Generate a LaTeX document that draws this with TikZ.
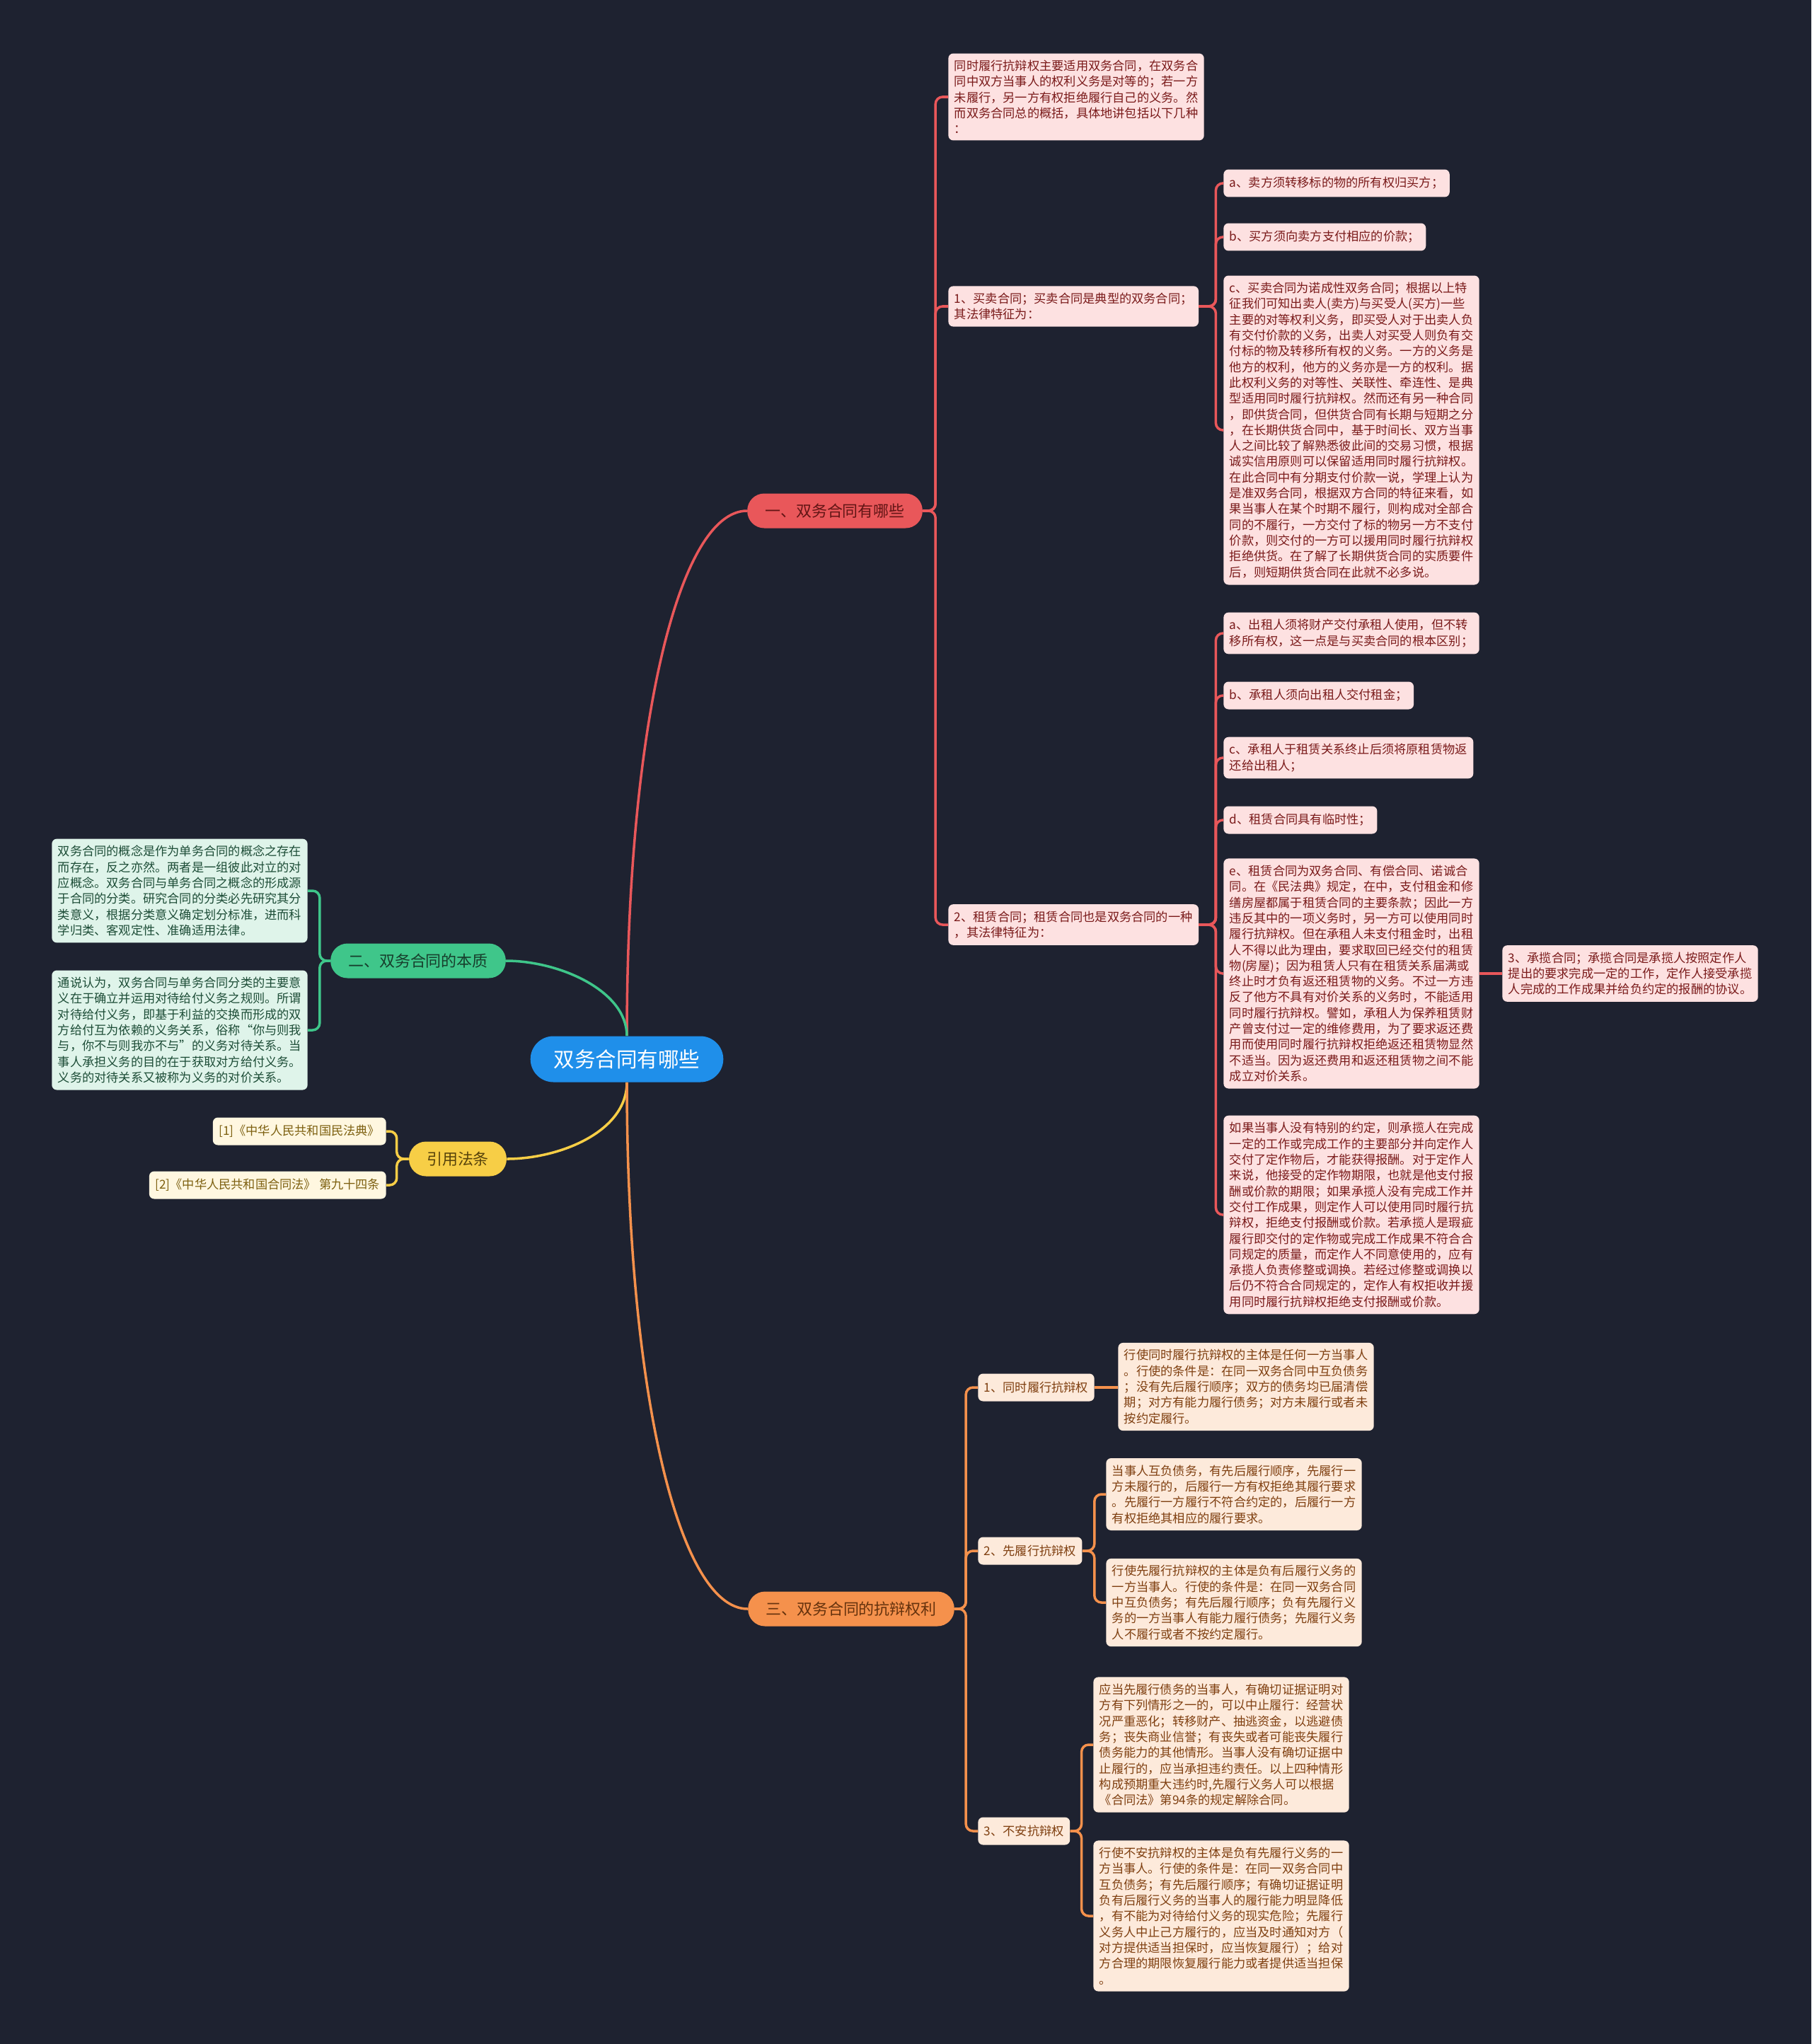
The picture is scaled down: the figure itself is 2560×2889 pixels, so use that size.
\documentclass[tikz,border=0pt]{standalone}
\usepackage{fontspec}
\usepackage{tikz}
\newfontfamily\cjk{Noto Sans CJK SC}
\definecolor{bgdark}{HTML}{1E2230}
\definecolor{rootblue}{HTML}{1F8FEA}
\definecolor{redmain}{HTML}{E9575A}
\definecolor{redsoft}{HTML}{FDE1E1}
\definecolor{redtext}{HTML}{7A1A1A}
\definecolor{greenmain}{HTML}{3FC68A}
\definecolor{greensoft}{HTML}{DFF4EA}
\definecolor{greentext}{HTML}{1D4D37}
\definecolor{yellowmain}{HTML}{F7CE46}
\definecolor{yellowsoft}{HTML}{FFF7E0}
\definecolor{yellowtext}{HTML}{7D6010}
\definecolor{orangemain}{HTML}{F5914C}
\definecolor{orangesoft}{HTML}{FDEADB}
\definecolor{orangetext}{HTML}{7F3F10}

\begin{document}
\begin{tikzpicture}[x=0.02cm, y=-0.02cm, every node/.style={font=\cjk}]
\tikzset{
  box/.style={rounded corners=0.14cm, inner xsep=0.17cm, inner ysep=0.19cm, minimum height=0.78cm,
    align=left, font=\cjk\fontsize{9.8pt}{12.7pt}\selectfont},
  pill/.style={rounded corners=0.48cm, minimum height=0.98cm, inner xsep=0.5cm,
    font=\cjk\fontsize{12.5pt}{15pt}\selectfont},
  rbox/.style={box, fill=redsoft, text=redtext},
  gbox/.style={box, fill=greensoft, text=greentext},
  ybox/.style={box, fill=yellowsoft, text=yellowtext},
  obox/.style={box, fill=orangesoft, text=orangetext},
  link/.style={line width=2pt, rounded corners=0.2cm}
}
\fill[bgdark] (0,0) rectangle (2560,2889);

% centre topic and the four branches
\node[pill, fill=rootblue, text=white, rounded corners=0.65cm, minimum height=1.3cm, inner xsep=0.66cm,
  font=\cjk\fontsize{16.8pt}{20pt}\selectfont] (root) at (886,1497) {双务合同有哪些};
\node[pill, fill=redmain, text=redtext!80!black] (br1) at (1180,722) {一、双务合同有哪些};
\node[pill, fill=greenmain, text=greentext!80!black] (br2) at (591,1358) {二、双务合同的本质};
\node[pill, fill=yellowmain, text=yellowtext!70!black] (br3) at (647,1638) {引用法条};
\node[pill, fill=orangemain, text=orangetext!80!black] (br4) at (1203,2274) {三、双务合同的抗辩权利};

\draw[link, redmain] (root.north) .. controls (886,1032) and (958,722) .. (br1.west);
\draw[link, greenmain] (root.north) .. controls (886,1400) and (790,1358) .. (br2.east);
\draw[link, yellowmain] (root.south) .. controls (886,1600) and (790,1638) .. (br3.east);
\draw[link, orangemain] (root.south) .. controls (886,1960) and (958,2274) .. (br4.west);

% branch one: kinds of bilateral contracts
\node[rbox, anchor=west] (intro) at (1340,137) {同时履行抗辩权主要适用双务合同，在双务合\\
同中双方当事人的权利义务是对等的；若一方\\
未履行，另一方有权拒绝履行自己的义务。然\\
而双务合同总的概括，具体地讲包括以下几种\\
：};
\node[rbox, anchor=west] (buy) at (1340,433) {1、买卖合同；买卖合同是典型的双务合同；\\其法律特征为：};
\node[rbox, anchor=west] (lease) at (1340,1307) {2、租赁合同；租赁合同也是双务合同的一种\\，其法律特征为：};
\foreach \c in {intro,buy,lease}
  \draw[link, redmain] (br1.east) -- ++(18,0) |- (\c.west);

\node[rbox, anchor=west] (buyA) at (1729,259) {a、卖方须转移标的物的所有权归买方；};
\node[rbox, anchor=west] (buyB) at (1729,335) {b、买方须向卖方支付相应的价款；};
\node[rbox, anchor=west] (buyC) at (1729,608) {c、买卖合同为诺成性双务合同；根据以上特\\
征我们可知出卖人(卖方)与买受人(买方)一些\\
主要的对等权利义务，即买受人对于出卖人负\\
有交付价款的义务，出卖人对买受人则负有交\\
付标的物及转移所有权的义务。一方的义务是\\
他方的权利，他方的义务亦是一方的权利。据\\
此权利义务的对等性、关联性、牵连性、是典\\
型适用同时履行抗辩权。然而还有另一种合同\\
，即供货合同，但供货合同有长期与短期之分\\
，在长期供货合同中，基于时间长、双方当事\\
人之间比较了解熟悉彼此间的交易习惯，根据\\
诚实信用原则可以保留适用同时履行抗辩权。\\
在此合同中有分期支付价款一说，学理上认为\\
是准双务合同，根据双方合同的特征来看，如\\
果当事人在某个时期不履行，则构成对全部合\\
同的不履行，一方交付了标的物另一方不支付\\
价款，则交付的一方可以援用同时履行抗辩权\\
拒绝供货。在了解了长期供货合同的实质要件\\
后，则短期供货合同在此就不必多说。};
\foreach \c in {buyA,buyB,buyC}
  \draw[link, redmain] (buy.east) -- ++(24,0) |- (\c.west);

\node[rbox, anchor=west] (leaseA) at (1729,895) {a、出租人须将财产交付承租人使用，但不转\\移所有权，这一点是与买卖合同的根本区别；};
\node[rbox, anchor=west] (leaseB) at (1729,983) {b、承租人须向出租人交付租金；};
\node[rbox, anchor=west] (leaseC) at (1729,1071) {c、承租人于租赁关系终止后须将原租赁物返\\还给出租人；};
\node[rbox, anchor=west] (leaseD) at (1729,1159) {d、租赁合同具有临时性；};
\node[rbox, anchor=west] (leaseE) at (1729,1376) {e、租赁合同为双务合同、有偿合同、诺诚合\\
同。在《民法典》规定，在中，支付租金和修\\
缮房屋都属于租赁合同的主要条款；因此一方\\
违反其中的一项义务时，另一方可以使用同时\\
履行抗辩权。但在承租人未支付租金时，出租\\
人不得以此为理由，要求取回已经交付的租赁\\
物(房屋)；因为租赁人只有在租赁关系届满或\\
终止时才负有返还租赁物的义务。不过一方违\\
反了他方不具有对价关系的义务时，不能适用\\
同时履行抗辩权。譬如，承租人为保养租赁财\\
产曾支付过一定的维修费用，为了要求返还费\\
用而使用同时履行抗辩权拒绝返还租赁物显然\\
不适当。因为返还费用和返还租赁物之间不能\\
成立对价关系。};
\node[rbox, anchor=west] (leaseF) at (1729,1717) {如果当事人没有特别的约定，则承揽人在完成\\
一定的工作或完成工作的主要部分并向定作人\\
交付了定作物后，才能获得报酬。对于定作人\\
来说，他接受的定作物期限，也就是他支付报\\
酬或价款的期限；如果承揽人没有完成工作并\\
交付工作成果，则定作人可以使用同时履行抗\\
辩权，拒绝支付报酬或价款。若承揽人是瑕疵\\
履行即交付的定作物或完成工作成果不符合合\\
同规定的质量，而定作人不同意使用的，应有\\
承揽人负责修整或调换。若经过修整或调换以\\
后仍不符合合同规定的，定作人有权拒收并援\\
用同时履行抗辩权拒绝支付报酬或价款。};
\foreach \c in {leaseA,leaseB,leaseC,leaseD,leaseE,leaseF}
  \draw[link, redmain] (lease.east) -- ++(24,0) |- (\c.west);

\node[rbox, anchor=west] (work) at (2123,1376) {3、承揽合同；承揽合同是承揽人按照定作人\\
提出的要求完成一定的工作，定作人接受承揽\\
人完成的工作成果并给负约定的报酬的协议。};
\draw[link, redmain] (leaseE.east) -- (work.west);

% branch two: nature of the contract
\node[gbox, anchor=east] (essA) at (435,1259) {双务合同的概念是作为单务合同的概念之存在\\
而存在，反之亦然。两者是一组彼此对立的对\\
应概念。双务合同与单务合同之概念的形成源\\
于合同的分类。研究合同的分类必先研究其分\\
类意义，根据分类意义确定划分标准，进而科\\
学归类、客观定性、准确适用法律。};
\node[gbox, anchor=east] (essB) at (435,1456) {通说认为，双务合同与单务合同分类的主要意\\
义在于确立并运用对待给付义务之规则。所谓\\
对待给付义务，即基于利益的交换而形成的双\\
方给付互为依赖的义务关系，俗称“你与则我\\
与，你不与则我亦不与”的义务对待关系。当\\
事人承担义务的目的在于获取对方给付义务。\\
义务的对待关系又被称为义务的对价关系。};
\foreach \c in {essA,essB}
  \draw[link, greenmain] (br2.west) -- ++(-15,0) |- (\c.east);

% branch three: cited articles
\node[ybox, anchor=east] (refA) at (546,1599) {[1]《中华人民共和国民法典》};
\node[ybox, anchor=east] (refB) at (546,1675) {[2]《中华人民共和国合同法》 第九十四条};
\foreach \c in {refA,refB}
  \draw[link, yellowmain] (br3.west) -- ++(-17,0) |- (\c.east);

% branch four: the three defences
\node[obox, anchor=west] (rightA) at (1382,1961) {1、同时履行抗辩权};
\node[obox, anchor=west] (rightB) at (1382,2192) {2、先履行抗辩权};
\node[obox, anchor=west] (rightC) at (1382,2588) {3、不安抗辩权};
\foreach \c in {rightA,rightB,rightC}
  \draw[link, orangemain] (br4.east) -- ++(16,0) |- (\c.west);

\node[obox, anchor=west] (rightAa) at (1580,1960) {行使同时履行抗辩权的主体是任何一方当事人\\
。行使的条件是：在同一双务合同中互负债务\\
；没有先后履行顺序；双方的债务均已届清偿\\
期；对方有能力履行债务；对方未履行或者未\\
按约定履行。};
\draw[link, orangemain] (rightA.east) -- (rightAa.west |- rightA.east);

\node[obox, anchor=west] (rightBa) at (1563,2112) {当事人互负债务，有先后履行顺序，先履行一\\
方未履行的，后履行一方有权拒绝其履行要求\\
。先履行一方履行不符合约定的，后履行一方\\
有权拒绝其相应的履行要求。};
\node[obox, anchor=west] (rightBb) at (1563,2265) {行使先履行抗辩权的主体是负有后履行义务的\\
一方当事人。行使的条件是：在同一双务合同\\
中互负债务；有先后履行顺序；负有先履行义\\
务的一方当事人有能力履行债务；先履行义务\\
人不履行或者不按约定履行。};
\foreach \c in {rightBa,rightBb}
  \draw[link, orangemain] (rightB.east) -- ++(17,0) |- (\c.west);

\node[obox, anchor=west] (rightCa) at (1545,2466) {应当先履行债务的当事人，有确切证据证明对\\
方有下列情形之一的，可以中止履行：经营状\\
况严重恶化；转移财产、抽逃资金，以逃避债\\
务；丧失商业信誉；有丧失或者可能丧失履行\\
债务能力的其他情形。当事人没有确切证据中\\
止履行的，应当承担违约责任。以上四种情形\\
构成预期重大违约时,先履行义务人可以根据\\
《合同法》第94条的规定解除合同。};
\node[obox, anchor=west] (rightCb) at (1545,2708) {行使不安抗辩权的主体是负有先履行义务的一\\
方当事人。行使的条件是：在同一双务合同中\\
互负债务；有先后履行顺序；有确切证据证明\\
负有后履行义务的当事人的履行能力明显降低\\
，有不能为对待给付义务的现实危险；先履行\\
义务人中止己方履行的，应当及时通知对方（\\
对方提供适当担保时，应当恢复履行）；给对\\
方合理的期限恢复履行能力或者提供适当担保\\
。};
\foreach \c in {rightCa,rightCb}
  \draw[link, orangemain] (rightC.east) -- ++(16,0) |- (\c.west);
\end{tikzpicture}
\end{document}
